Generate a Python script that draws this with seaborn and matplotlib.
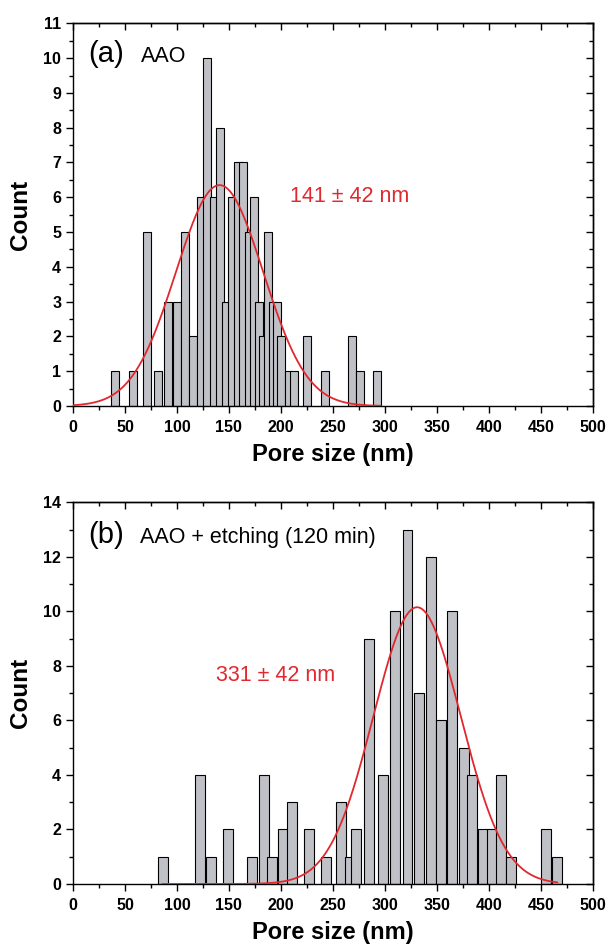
import numpy as np
import pandas as pd
import matplotlib
matplotlib.use("Agg")
import matplotlib.pyplot as plt
from matplotlib.ticker import MultipleLocator
import seaborn as sns

# ---- (a) as-anodized AAO: bar centre (nm) and count ----
aao_size = [40.6, 57.5, 70.8, 81.3, 91.7, 100.0, 108.0, 115.5, 123.0, 129.2,
            135.8, 141.6, 147.1, 152.9, 158.3, 163.8, 168.9, 174.4, 178.6, 182.4,
            187.5, 192.1, 196.6, 200.3, 207.5, 212.9, 225.4, 242.3, 268.5, 276.0,
            292.7]
aao_count = [1, 1, 5, 1, 3, 3, 5, 2, 6, 10,
             6, 8, 3, 6, 7, 7, 5, 6, 3, 2,
             5, 3, 3, 2, 1, 1, 2, 1, 2, 1,
             1]

# ---- (b) AAO after 120 min pore widening ----
etched_size = [86.3, 122.0, 132.5, 148.8, 172.6, 183.9, 191.9, 201.7, 210.6, 227.3,
               243.4, 258.2, 266.8, 271.8, 285.2, 298.0, 310.0, 321.8, 332.4, 344.0,
               354.0, 364.5, 375.8, 384.2, 394.1, 403.0, 412.1, 421.8, 454.6, 465.2]
etched_count = [1, 4, 1, 2, 1, 4, 1, 2, 3, 2,
                1, 3, 1, 2, 9, 4, 10, 13, 7, 12,
                6, 10, 5, 4, 2, 2, 4, 1, 2, 1]

# Gaussian fits (mean, sd, peak height, drawn range)
aao_fit = dict(mean=141, sd=42, peak=6.35, lo=0, hi=296)
etched_fit = dict(mean=331, sd=42, peak=10.15, lo=86, hi=466)

BAR_GRAY = "#c0c1c6"
FIT_RED = "#e0282e"

sns.set_style("ticks")
plt.rcParams["font.family"] = ["Liberation Sans", "DejaVu Sans"]
plt.rcParams.update({
    "axes.linewidth": 1.0,
    "axes.edgecolor": "black",
    "text.color": "black",
    "axes.labelcolor": "black",
    "xtick.color": "black",
    "ytick.color": "black",
})


def draw_panel(ax, sizes, counts, fit, bar_w, ymax, ymajor, yminor,
               tag, title, fit_label, tag_xy, title_x, label_xy):
    df = pd.DataFrame({"size": sizes, "count": counts})
    native = np.min(np.diff(np.unique(df["size"])))
    sns.barplot(data=df, x="size", y="count", native_scale=True,
                width=bar_w / native, color=BAR_GRAY, saturation=1,
                edgecolor="black", linewidth=0.8, errorbar=None, ax=ax)

    xs = np.linspace(fit["lo"], fit["hi"], 400)
    ys = fit["peak"] * np.exp(-0.5 * ((xs - fit["mean"]) / fit["sd"]) ** 2)
    sns.lineplot(x=xs, y=ys, color=FIT_RED, linewidth=1.3, estimator=None,
                 ax=ax, zorder=5)

    ax.set_xlim(0, 500)
    ax.set_ylim(0, ymax)
    ax.xaxis.set_major_locator(MultipleLocator(50))
    ax.xaxis.set_minor_locator(MultipleLocator(25))
    ax.yaxis.set_major_locator(MultipleLocator(ymajor))
    ax.yaxis.set_minor_locator(MultipleLocator(yminor))
    ax.tick_params(which="major", direction="out", length=5, width=1.0,
                   labelsize=11.5)
    ax.tick_params(axis="x", which="major", pad=5)
    ax.tick_params(axis="y", which="major", pad=3.5)
    ax.tick_params(which="minor", direction="out", length=3, width=1.0)
    for lab in ax.get_xticklabels() + ax.get_yticklabels():
        lab.set_fontweight("bold")

    # mirrored inward ticks on top and right
    top = ax.secondary_xaxis("top")
    top.xaxis.set_major_locator(MultipleLocator(50))
    top.xaxis.set_minor_locator(MultipleLocator(25))
    top.tick_params(which="major", direction="in", length=5, width=1.0, labeltop=False)
    top.tick_params(which="minor", direction="in", length=3, width=1.0)
    right = ax.secondary_yaxis("right")
    right.yaxis.set_major_locator(MultipleLocator(ymajor))
    right.yaxis.set_minor_locator(MultipleLocator(yminor))
    right.tick_params(which="major", direction="in", length=5, width=1.0, labelright=False)
    right.tick_params(which="minor", direction="in", length=3, width=1.0)

    ax.set_xlabel("Pore size (nm)", fontsize=17, fontweight="bold", labelpad=6)
    ax.set_ylabel("Count", fontsize=17.5, fontweight="bold", labelpad=8)

    ax.text(tag_xy[0], tag_xy[1], tag, fontsize=21, va="baseline", ha="left")
    ax.text(title_x, tag_xy[1], title, fontsize=15.5, va="baseline", ha="left")
    ax.text(label_xy[0], label_xy[1], fit_label, fontsize=15.5, color=FIT_RED,
            va="baseline", ha="left")


fig = plt.figure(figsize=(6.10, 9.44), dpi=100)
ax_a = fig.add_axes([0.1197, 0.5699, 0.8520, 0.4054])
ax_b = fig.add_axes([0.1197, 0.0636, 0.8520, 0.4043])

draw_panel(ax_a, aao_size, aao_count, aao_fit, 7.7, 11, 1, 0.5,
           "(a)", "AAO", "141 \u00b1 42 nm", (14.5, 9.88), 65.3, (208.5, 5.87))
draw_panel(ax_b, etched_size, etched_count, etched_fit, 9.6, 14, 2, 1,
           "(b)", "AAO + etching (120 min)", "331 \u00b1 42 nm",
           (14.5, 12.5), 64.3, (137.3, 7.45))

fig.savefig("out.png", dpi=100)
